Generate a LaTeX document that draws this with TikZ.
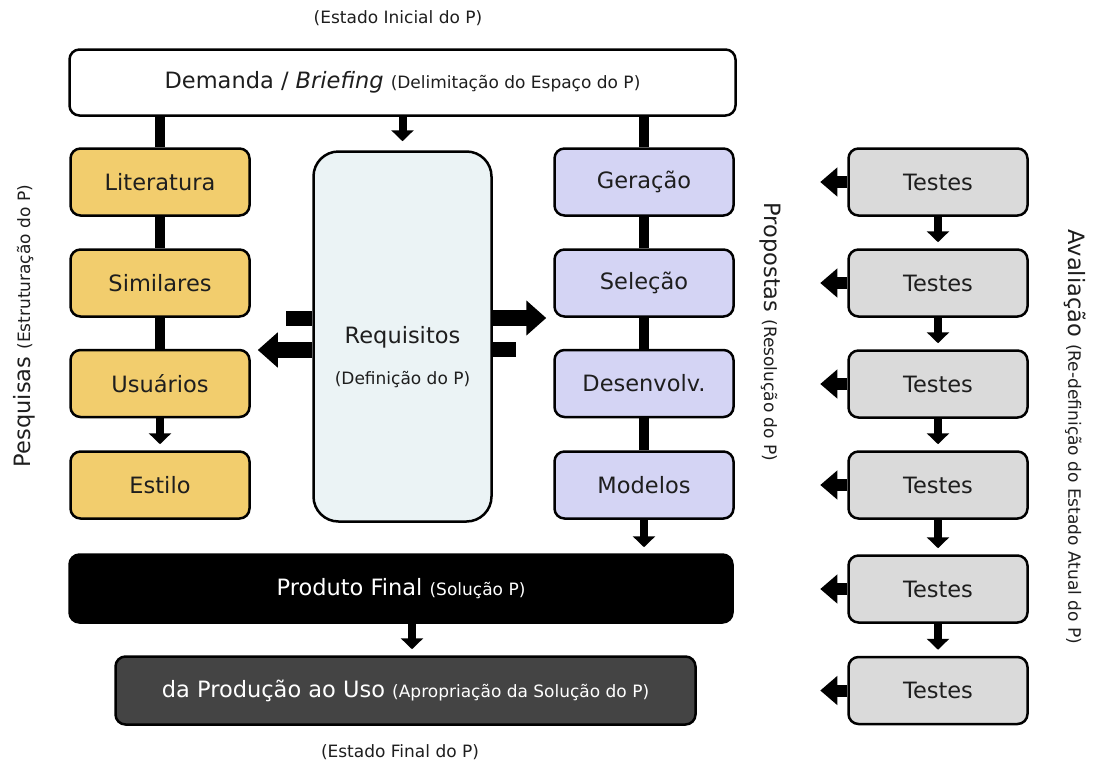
\documentclass[tikz,border=0pt]{standalone}
\usepackage{fontspec}
\setmainfont{DejaVu Sans}
\usetikzlibrary{arrows.meta}
\definecolor{yel}{HTML}{F2CD6D}
\definecolor{lav}{HTML}{D4D4F4}
\definecolor{reqc}{HTML}{EBF3F5}
\definecolor{tst}{HTML}{DADADA}
\definecolor{dk}{HTML}{444444}
\definecolor{txt}{HTML}{1E1E1E}
\newcommand{\tbig}{\fontsize{22.5}{27}\selectfont}
\newcommand{\tsmall}{\fontsize{17}{20}\selectfont}
\begin{document}
\begin{tikzpicture}[x=1pt,y=-1pt,
  box/.style={draw=black, line width=2.5pt, rounded corners=10pt, minimum width=179pt, minimum height=67pt, inner sep=0pt, text=txt, font=\tbig},
  ybox/.style={box, fill=yel},
  lbox/.style={box, fill=lav},
  tbox/.style={box, fill=tst},
  bar/.style={line width=10pt},
  darr/.style={line width=8pt, -{Triangle[length=11pt,width=22pt]}, shorten >=6pt},
  harr/.style={line width=16pt, -{Triangle[length=20pt,width=34pt]}, shorten >=7pt},
  stub/.style={line width=15pt},
  tarr/.style={line width=12pt, -{Triangle[length=17pt,width=28pt]}},
  lbl/.style={text=txt, inner sep=0pt}
]
\useasboundingbox (0,0) rectangle (1093,769);

% top / bottom labels
\node[lbl, font=\tsmall] (ini) at (398,18) {(Estado Inicial do P)};
\node[lbl, font=\tsmall] (fin) at (400,752) {(Estado Final do P)};

% Demanda
\node[box, fill=white, minimum width=666pt, minimum height=66pt] (dem) at (402.5,82.5)
  {Demanda / \textit{Briefing} {\tsmall (Delimitação do Espaço do P)}};

% left column
\node[ybox] (lit) at (160,182) {Literatura};
\node[ybox] (sim) at (160,283) {Similares};
\node[ybox] (usu) at (160,383.5) {Usuários};
\node[ybox] (est) at (160,485) {Estilo};

% requisitos
\node[box, fill=reqc, rounded corners=25pt, minimum width=178pt, minimum height=370pt] (req) at (402.5,336.5) {};
\node[lbl, font=\tbig] (reqt) at (402.5,337) {Requisitos};
\node[lbl, font=\tsmall] (reqs) at (402.5,380) {(Definição do P)};

% right column
\node[lbox] (ger) at (644,182) {Geração};
\node[lbox] (sel) at (644,283) {Seleção};
\node[lbox] (des) at (644,383.5) {Desenvolv.};
\node[lbox] (mod) at (644,485) {Modelos};

% tests
\node[tbox] (t1) at (938,182) {Testes};
\node[tbox] (t2) at (938,283) {Testes};
\node[tbox] (t3) at (938,384) {Testes};
\node[tbox] (t4) at (938,485) {Testes};
\node[tbox] (t5) at (938,589) {Testes};
\node[tbox] (t6) at (938,690.5) {Testes};

% final boxes
\node[box, fill=black, text=white, minimum width=663pt, minimum height=68pt] (prod) at (401,588.5)
  {Produto Final {\tsmall (Solução P)}};
\node[box, fill=dk, text=white, minimum width=580pt, minimum height=68pt] (uso) at (405.5,690.5)
  {da Produção ao Uso {\tsmall (Apropriação da Solução do P)}};

% side labels
\node[lbl, rotate=90] (pesq) at (24,326) {\tbig Pesquisas {\tsmall (Estruturação do P)}};
\node[lbl, rotate=-90] (prop) at (770,332) {\tbig Propostas {\tsmall (Resolução do P)}};
\node[lbl, rotate=-90] (aval) at (1075,437) {\tbig Avaliação {\tsmall (Re-definição do Estado Atual do P)}};

% connectors left column
\draw[bar] (lit.north |- dem.south) -- (lit.north);
\draw[bar] (lit.south) -- (sim.north);
\draw[bar] (sim.south) -- (usu.north);
\draw[darr] (usu.south) -- (est.north);

% connectors right column
\draw[bar] (ger.north |- dem.south) -- (ger.north);
\draw[bar] (ger.south) -- (sel.north);
\draw[bar] (sel.south) -- (des.north);
\draw[bar] (des.south) -- (mod.north);
\draw[darr] (mod.south) -- (mod.south |- prod.north);

% demanda to requisitos
\draw[darr, shorten >=9pt] (dem.south) -- (req.north);

% requisitos arrows
\coordinate (lstub) at (286,318);
\coordinate (rstub) at (516,349);
\draw[stub] (lstub) -- (lstub -| req.west);
\draw[harr] (req.west |- 0,350) -- (usu.east |- 0,350);
\draw[harr] (req.east |- 0,318) -- (sel.west |- 0,318);
\draw[stub] (rstub -| req.east) -- (rstub);

% product to use
\draw[darr] (prod.south -| 412,0) -- (uso.north -| 412,0);

% tests
\foreach \t in {t1,t2,t3,t4,t5,t6}{
  \draw[tarr] (\t.west) -- ++(-27,0);
}
\draw[darr] (t1.south) -- (t2.north);
\draw[darr] (t2.south) -- (t3.north);
\draw[darr] (t3.south) -- (t4.north);
\draw[darr] (t4.south) -- (t5.north);
\draw[darr] (t5.south) -- (t6.north);
\end{tikzpicture}
\end{document}
